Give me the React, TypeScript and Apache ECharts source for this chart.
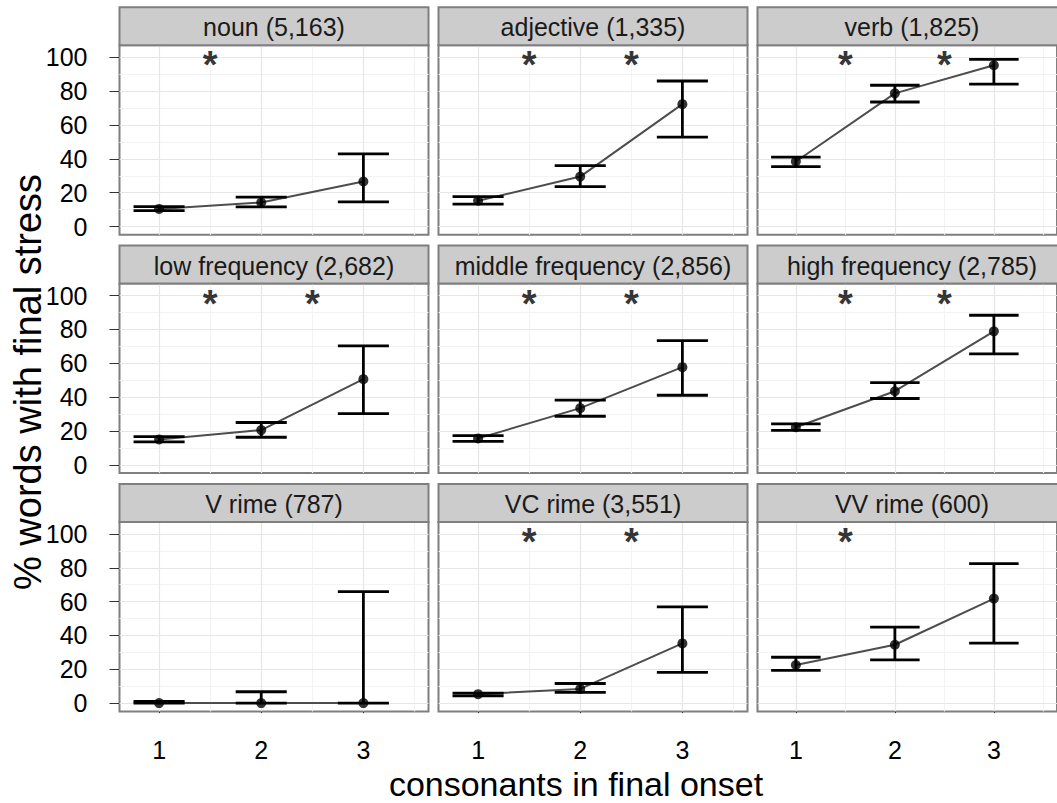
import React, { useEffect, useRef } from 'react';
import * as echarts from 'echarts';

const panelTitles = [
  'noun (5,163)', 'adjective (1,335)', 'verb (1,825)',
  'low frequency (2,682)', 'middle frequency (2,856)', 'high frequency (2,785)',
  'V rime (787)', 'VC rime (3,551)', 'VV rime (600)',
];
const onsetCounts = [1, 2, 3];
const meanPct = [
  [10.4, 14.2, 26.6],
  [15.2, 29.5, 72.3],
  [38.4, 78.7, 95.3],
  [15.0, 20.5, 50.6],
  [15.6, 33.5, 57.7],
  [22.2, 43.5, 78.9],
  [0, 0, 0],
  [5.3, 8.4, 35.3],
  [22.5, 34.5, 61.8],
];
const lowerPct = [
  [9.4, 11.6, 14.6],
  [13.2, 23.6, 52.8],
  [35.4, 73.6, 84.1],
  [13.6, 16.3, 30.3],
  [13.8, 28.7, 41.1],
  [20.3, 39.2, 65.6],
  [0, 0, 0],
  [4.3, 6.3, 18.2],
  [19.4, 25.5, 35.5],
];
const upperPct = [
  [11.8, 17.4, 42.9],
  [17.7, 36.0, 86.0],
  [41.0, 83.5, 98.8],
  [16.7, 25.0, 70.3],
  [17.3, 38.2, 73.4],
  [24.2, 48.6, 88.4],
  [1.0, 6.7, 65.9],
  [5.9, 11.6, 56.9],
  [27.1, 44.9, 82.4],
];
const starX = [
  [1.5], [1.5, 2.5], [1.5, 2.5],
  [1.5, 2.5], [1.5, 2.5], [1.5, 2.5],
  [], [1.5, 2.5], [1.5],
];
const starY = 100;
const yTickValues = [0, 20, 40, 60, 80, 100];
const yMinorValues = [10, 30, 50, 70, 90];
const xTickValues = [1, 2, 3];
const xMinorValues = [1.5, 2.5, 3.5];
const xTitle = 'consonants in final onset';
const yTitle = '% words with final stress';

const FONT = 'Liberation Sans, Arial, Helvetica, sans-serif';
const colLeft = [119.5, 438.5, 757.5];
const panelW = 309;
const rowTop = [45.3, 283.6, 521.9];
const panelH = 189.5;
const stripH = 38;

export default function App() {
  const ref = useRef<HTMLDivElement>(null);
  useEffect(() => {
    if (!ref.current) return;
    const chart = echarts.init(ref.current, undefined, { renderer: 'svg' });
    const grids: any[] = [];
    const xAxes: any[] = [];
    const yAxes: any[] = [];
    const series: any[] = [];
    const graphics: any[] = [];
    for (let i = 0; i < 9; i++) {
      const r = Math.floor(i / 3);
      const c = i % 3;
      grids.push({
        left: colLeft[c], top: rowTop[r], width: panelW, height: panelH,
        show: true, backgroundColor: '#FFFFFF', borderColor: '#7F7F7F', borderWidth: 2,
        containLabel: false, z: 0,
      });
      xAxes.push({
        type: 'value', gridIndex: i, min: 0.6125, max: 3.6375,
        axisLine: { show: false },
        splitLine: { show: false },
        axisTick: { show: r === 2, customValues: xTickValues, length: 10, lineStyle: { color: '#333333', width: 1 } },
        axisLabel: {
          show: r === 2, customValues: xTickValues, margin: 27,
          color: '#000000', fontSize: 25, lineHeight: 24, fontFamily: FONT,
          formatter: (v: number) => String(v),
        },
      });
      yAxes.push({
        type: 'value', gridIndex: i, min: -4.9, max: 107.1,
        axisLine: { show: false },
        splitLine: { show: false },
        axisTick: { show: c === 0, customValues: yTickValues, length: 10, lineStyle: { color: '#333333', width: 1 } },
        axisLabel: {
          show: c === 0, customValues: yTickValues, margin: 32,
          color: '#000000', fontSize: 25, lineHeight: 25, fontFamily: FONT,
          formatter: (v: number) => String(v),
        },
      });
      const gridLines: any[] = [];
      xMinorValues.forEach((v) => gridLines.push({ xAxis: v, lineStyle: { color: '#F3F3F3', width: 1.2 } }));
      yMinorValues.forEach((v) => gridLines.push({ yAxis: v, lineStyle: { color: '#F3F3F3', width: 1.2 } }));
      xTickValues.forEach((v) => gridLines.push({ xAxis: v, lineStyle: { color: '#E6E6E6', width: 1.2 } }));
      yTickValues.forEach((v) => gridLines.push({ yAxis: v, lineStyle: { color: '#E6E6E6', width: 1.2 } }));
      series.push({
        type: 'line', xAxisIndex: i, yAxisIndex: i, z: 1, silent: true,
        data: onsetCounts.map((x, k) => [x, meanPct[i][k]]),
        showSymbol: false, lineStyle: { opacity: 0, width: 0 },
        markLine: {
          silent: true, z: 1, symbol: ['none', 'none'], label: { show: false },
          lineStyle: { type: 'solid' }, data: gridLines, animation: false,
        },
      });
      series.push({
        type: 'line', xAxisIndex: i, yAxisIndex: i, z: 10, silent: true,
        data: onsetCounts.map((x, k) => [x, meanPct[i][k]]),
        showSymbol: false, lineStyle: { color: '#4D4D4D', width: 2 },
      });
      series.push({
        type: 'custom', xAxisIndex: i, yAxisIndex: i, z: 11, silent: true,
        data: onsetCounts.map((x, k) => [x, lowerPct[i][k], upperPct[i][k]]),
        encode: { x: 0, y: [1, 2] },
        renderItem: (params: any, api: any) => {
          const x = api.value(0);
          const lo = api.coord([x, api.value(1)]);
          const hi = api.coord([x, api.value(2)]);
          const half = api.size([0.25, 0])[0];
          const style = { stroke: '#000000', lineWidth: 2.8 };
          return {
            type: 'group',
            children: [
              { type: 'line', shape: { x1: lo[0], y1: lo[1], x2: hi[0], y2: hi[1] }, style },
              { type: 'line', shape: { x1: lo[0] - half, y1: lo[1], x2: lo[0] + half, y2: lo[1] }, style },
              { type: 'line', shape: { x1: hi[0] - half, y1: hi[1], x2: hi[0] + half, y2: hi[1] }, style },
            ],
          };
        },
      });
      series.push({
        type: 'scatter', xAxisIndex: i, yAxisIndex: i, z: 12, silent: true,
        data: onsetCounts.map((x, k) => [x, meanPct[i][k]]),
        symbol: 'circle', symbolSize: 10, itemStyle: { color: '#000000' },
      });
      if (starX[i].length) {
        series.push({
          type: 'scatter', xAxisIndex: i, yAxisIndex: i, z: 13, silent: true,
          data: starX[i].map((x) => [x, starY]),
          symbol: 'circle', symbolSize: 1, itemStyle: { color: 'rgba(0,0,0,0)' },
          label: {
            show: true, position: 'inside', formatter: '*', color: '#000000',
            fontSize: 38, fontWeight: 'bold', fontFamily: FONT, offset: [0, 8],
          },
        });
      }
      graphics.push({
        type: 'rect', z: 20,
        shape: { x: colLeft[c], y: rowTop[r] - stripH, width: panelW, height: stripH },
        style: { fill: '#CCCCCC', stroke: '#7F7F7F', lineWidth: 2 },
      });
      graphics.push({
        type: 'text', z: 21,
        x: colLeft[c] + panelW / 2, y: rowTop[r] - stripH / 2 + 1,
        style: {
          text: panelTitles[i], fill: '#1A1A1A', font: `25px ${FONT}`,
          textAlign: 'center', textVerticalAlign: 'middle',
        },
      });
    }
    graphics.push({
      type: 'text', x: 576, y: 784,
      style: { text: xTitle, fill: '#000000', font: `34px ${FONT}`, lineHeight: 28, textAlign: 'center', textVerticalAlign: 'middle' },
    });
    graphics.push({
      type: 'text', x: 28, y: 382, rotation: Math.PI / 2,
      style: { text: yTitle, fill: '#000000', font: `38px ${FONT}`, lineHeight: 36, textAlign: 'center', textVerticalAlign: 'middle' },
    });
    chart.setOption({
      animation: false,
      backgroundColor: '#FFFFFF',
      grid: grids,
      xAxis: xAxes,
      yAxis: yAxes,
      series,
      graphic: graphics,
    });
    return () => chart.dispose();
  }, []);
  return (
    <div
      ref={ref}
      style={{ position: 'fixed', left: 0, top: 0, width: 1057, height: 803 }}
    />
  );
}
